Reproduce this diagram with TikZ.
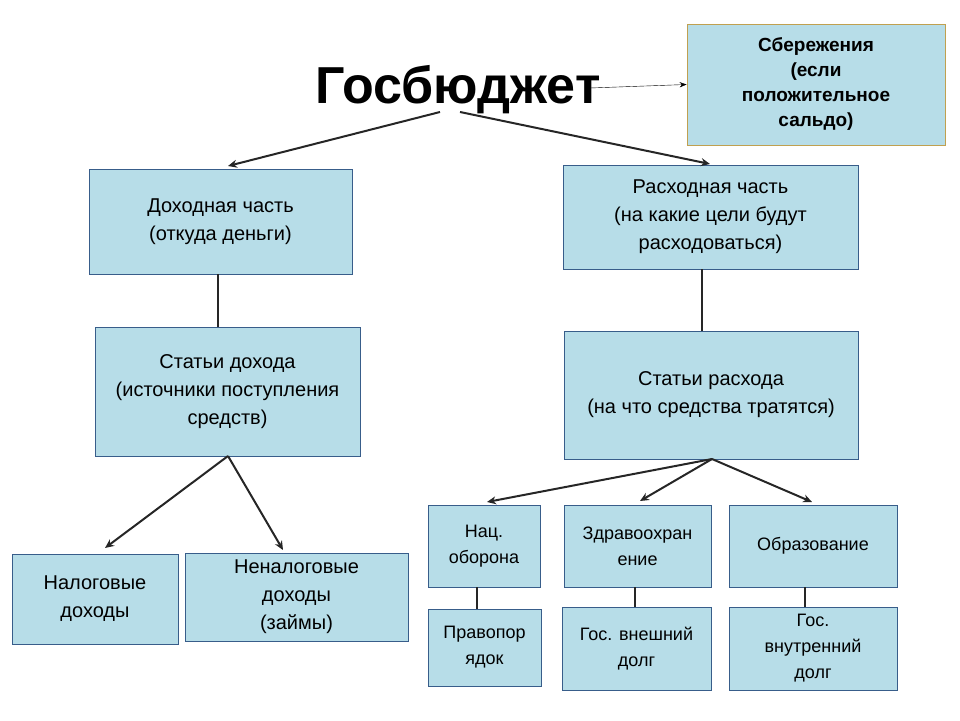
\documentclass[tikz,border=0pt]{standalone}
\usepackage{fontspec}
\setmainfont{Liberation Sans}
\usetikzlibrary{arrows.meta}
\definecolor{boxfill}{HTML}{B7DDE8}
\definecolor{boxline}{HTML}{385D8A}
\definecolor{saveline}{HTML}{C0A050}
\tikzset{
  box/.style={draw=boxline, thick, fill=boxfill, align=center, font=\fontsize{20}{28}\selectfont, inner sep=2pt},
  smallbox/.style={box, font=\fontsize{18}{26}\selectfont},
  link/.style={line width=2pt, draw=black!85},
  branch/.style={link, -{Stealth[length=9pt,width=8pt]}}
}
\begin{document}
\begin{tikzpicture}[x=1pt,y=-1pt]
\useasboundingbox (0,0) rectangle (960,720);
% title and savings
\node[font=\fontsize{52}{60}\bfseries] (budget) at (458,90) {Госбюджет};
\node[box, draw=saveline, font=\fontsize{19}{25}\bfseries, minimum width=258, minimum height=121] (savings) at (816,84.5) {Сбережения\\ (если\\ положительное\\ сальдо)};
\coordinate (budgetR) at (590,88);
\draw[thin, -{Stealth[length=7pt]}] (budgetR) -- (savings.west);
% first level
\node[box, minimum width=263, minimum height=105] (income) at (220.5,221.5) {Доходная часть\\ (откуда деньги)};
\node[box, minimum width=295, minimum height=104] (spend) at (710.5,217) {Расходная часть\\ (на какие цели будут\\ расходоваться)};
\coordinate (budgetL) at (440,112);
\coordinate (budgetM) at (460,112);
\draw[branch] (budgetL) -- (228,166);
\draw[branch] (budgetM) -- (710,164);
% second level
\node[box, minimum width=265, minimum height=129] (incitems) at (227.5,391.5) {Статьи дохода\\ (источники поступления\\ средств)};
\node[box, minimum width=294, minimum height=128] (spenditems) at (711,395) {Статьи расхода\\ (на что средства тратятся)};
\draw[link] (income.south -| 218,0) -- (incitems.north -| 218,0);
\draw[link] (spend.south -| 702,0) -- (spenditems.north -| 702,0);
% income kinds
\node[box, minimum width=166, minimum height=90] (tax) at (95,599) {Налоговые\\ доходы};
\node[box, minimum width=223, minimum height=88] (nontax) at (296.5,597) {Неналоговые\\ доходы\\ (займы)};
\coordinate (incsplit) at (228,456);
\draw[branch] (incsplit) -- (105,548);
\draw[branch] (incsplit) -- (283,550);
% spending kinds
\node[smallbox, minimum width=112, minimum height=82] (defence) at (484,546) {Нац.\\ оборона};
\node[smallbox, minimum width=147, minimum height=82] (health) at (637.5,546) {Здравоохран\\ ение};
\node[smallbox, minimum width=168, minimum height=82] (educ) at (813,546) {Образование};
\coordinate (spendsplit) at (712,459);
\draw[branch] (spendsplit) -- (487,502);
\draw[branch] (spendsplit) -- (640,501);
\draw[branch] (spendsplit) -- (812,502);
\node[smallbox, minimum width=113, minimum height=77] (order) at (484.5,647.5) {Правопор\\ ядок};
\node[smallbox, minimum width=149, minimum height=83] (extdebt) at (636.5,648.5) {Гос. внешний\\ долг};
\node[smallbox, minimum width=168, minimum height=83] (intdebt) at (813,648.5) {Гос.\\ внутренний\\ долг};
\draw[link] (defence.south -| 477,0) -- (order.north -| 477,0);
\draw[link] (health.south -| 635,0) -- (extdebt.north -| 635,0);
\draw[link] (educ.south -| 805,0) -- (intdebt.north -| 805,0);
\end{tikzpicture}
\end{document}
